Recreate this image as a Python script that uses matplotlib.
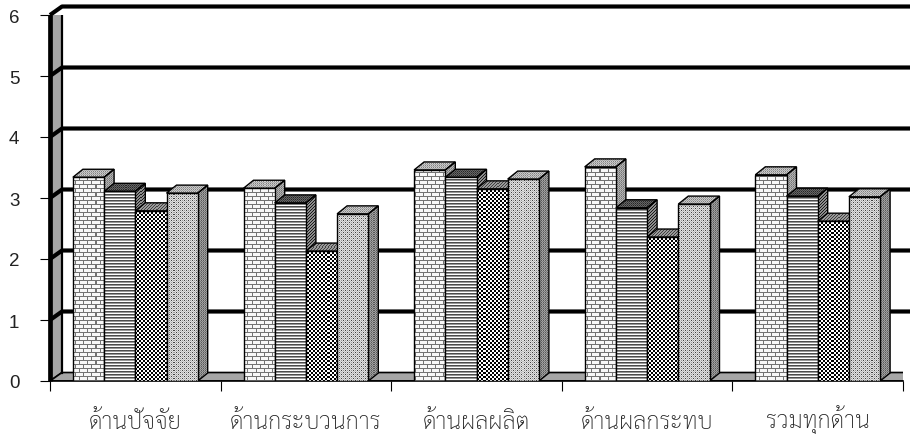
import numpy as np
import matplotlib
matplotlib.use("Agg")
import matplotlib.pyplot as plt
import matplotlib.font_manager as fm
from matplotlib.ft2font import FT2Font
from matplotlib.patches import Polygon

# ---------------- data ----------------
categories = ["ด้านปัจจัย", "ด้านกระบวนการ", "ด้านผลผลิต", "ด้านผลกระทบ", "รวมทุกด้าน"]
series1 = [3.34, 3.16, 3.46, 3.51, 3.38]
series2 = [3.11, 2.92, 3.34, 2.84, 3.03]
series3 = [2.79, 2.13, 3.15, 2.36, 2.62]
series4 = [3.08, 2.74, 3.31, 2.90, 3.02]
y_ticks = [0, 1, 2, 3, 4, 5, 6]

# ---------------- thai font ----------------
cands = []
for f in fm.fontManager.ttflist:
    try:
        cm = FT2Font(f.fname).get_charmap()
    except Exception:
        continue
    if 0x0E14 in cm and 0x0E49 in cm:
        cands.append(f.name)
cands = sorted(set(cands))
thai_font = cands[0] if cands else "DejaVu Sans"
for pref in ["Sarabun", "Noto Sans Thai Looped", "Thasadith", "Niramit", "Anuphan"]:
    if pref in cands:
        thai_font = pref
        break

# ---------------- layout ----------------
W, H, DPI = 910, 435, 100
fig = plt.figure(figsize=(W / DPI, H / DPI), dpi=DPI)
axl, axr, axt, axb = 50, 903, 16, 382
ax = fig.add_axes([axl / W, (H - axb) / H, (axr - axl) / W, (axb - axt) / H])
NX, NY = 5, 6
sx = (axr - axl) / NX
sy = (axb - axt) / NY

wdx, wdy = 12 / sx, 8.5 / sy      # wall depth
bdx, bdy = 10 / sx, 8 / sy        # bar depth
bw = 31.2 / sx

# ---------------- textures ----------------
X0, X1, Y0, Y1 = -0.3, 5.4, -0.4, 6.5
GC = int(round((X1 - X0) * sx))
GR = int(round((Y1 - Y0) * sy))
rr, cc = np.mgrid[0:GR, 0:GC]


def brick():
    a = np.full((GR, GC), 0.97)
    m = 0.45
    a[rr % 8 == 0] = m
    a[rr % 8 == 4] = m
    a[((rr % 8) < 4) & (cc % 8 == 0)] = m
    a[((rr % 8) >= 4) & (cc % 8 == 4)] = m
    return a


def hlines():
    vals = np.array([0.3, 0.6, 1.0])
    return vals[rr % 3]


def checker():
    return np.where(((rr // 2) + (cc // 2)) % 2 == 0, 0.0, 1.0)


def dots():
    tile = np.array([[0.25, 0.88, 0.6, 0.88],
                     [0.88, 0.75, 0.88, 0.75],
                     [0.6, 0.88, 0.25, 0.88],
                     [0.88, 0.75, 0.88, 0.75]])
    return tile[rr % 4, cc % 4]


def stip(a, b, c, d):
    tile = np.array([[a, b], [c, d]])
    return tile[rr % 2, cc % 2]


def diag(dark, light):
    return np.where((rr + cc) % 3 == 0, dark, light)


front_tex = [brick(), hlines(), checker(), dots()]
side_tex = [stip(0.45, 0.72, 0.68, 0.55), diag(0.1, 0.55), stip(0.1, 0.55, 0.55, 0.15), stip(0.35, 0.65, 0.6, 0.48)]
top_tex = [stip(0.5, 0.82, 0.75, 0.65), stip(0.15, 0.4, 0.4, 0.25), diag(0.25, 0.6), stip(0.5, 0.8, 0.78, 0.62)]


def fill_tex(tex, patch, z, bbox):
    xa, xb, ya, yb = bbox
    c0 = max(0, int(np.floor((xa - X0) * sx)) - 1)
    c1 = min(GC, int(np.ceil((xb - X0) * sx)) + 1)
    r0 = max(0, int(np.floor((Y1 - yb) * sy)) - 1)
    r1 = min(GR, int(np.ceil((Y1 - ya) * sy)) + 1)
    sub = tex[r0:r1, c0:c1]
    ext = (X0 + c0 / sx, X0 + c1 / sx, Y1 - r1 / sy, Y1 - r0 / sy)
    im = ax.imshow(sub, cmap="gray", vmin=0, vmax=1, extent=ext, origin="upper",
                   interpolation="nearest", aspect="auto", zorder=z)
    im.set_clip_path(patch)


# ---------------- walls, floor, grid ----------------
wall_gray = "#a6a6a6"
left_wall = Polygon([(0, 0), (0, NY), (wdx, NY + wdy), (wdx, wdy)], closed=True,
                    facecolor=wall_gray, edgecolor="black", lw=1.2, zorder=1)
ax.add_patch(left_wall)
floor = Polygon([(0, 0), (NX, 0), (NX + wdx, wdy), (wdx, wdy)], closed=True,
                facecolor=wall_gray, edgecolor="black", lw=1.2, zorder=1)
ax.add_patch(floor)
ax.plot([wdx, wdx], [wdy, NY + wdy], color="black", lw=1.6, zorder=2)

for v in y_ticks[1:]:
    ax.plot([0, wdx, NX + wdx], [v, v + wdy, v + wdy], color="black", lw=3.0,
            solid_capstyle="butt", zorder=3, clip_on=False)
ax.plot([0, 0], [0, NY], color="black", lw=3.4, solid_capstyle="butt", zorder=4, clip_on=False)
ax.plot([0, NX], [0, 0], color="black", lw=1.2, zorder=4, clip_on=False)

# ---------------- bars ----------------
all_series = [series1, series2, series3, series4]
xc = np.arange(len(categories)) + 0.5
for j, vals in enumerate(all_series):
    xs = xc - 2 * bw + j * bw
    bars = ax.bar(xs, vals, width=bw, align="edge", facecolor="none",
                  edgecolor="black", linewidth=1.0)
    for k, (rect, v) in enumerate(zip(bars.patches, vals)):
        z = 10 + j * 4
        x = rect.get_x()
        x1 = x + rect.get_width()
        h = rect.get_height()
        side = Polygon([(x1, 0), (x1 + bdx, bdy), (x1 + bdx, h + bdy), (x1, h)], closed=True,
                       facecolor="none", edgecolor="black", lw=1.0, zorder=z + 0.5)
        top = Polygon([(x, h), (x + bdx, h + bdy), (x1 + bdx, h + bdy), (x1, h)], closed=True,
                      facecolor="none", edgecolor="black", lw=1.0, zorder=z + 0.5)
        ax.add_patch(side)
        ax.add_patch(top)
        fill_tex(side_tex[j], side, z, (x1, x1 + bdx, 0, h + bdy))
        fill_tex(top_tex[j], top, z, (x, x1 + bdx, h, h + bdy))
        rect.set_zorder(z + 2)
        fill_tex(front_tex[j], rect, z + 1, (x, x1, 0, h))

# ---------------- axes cosmetics ----------------
ax.set_xlim(0, NX)
ax.set_ylim(0, NY)
for s in ax.spines.values():
    s.set_visible(False)
ax.set_yticks(y_ticks)
ax.set_yticklabels([str(t) for t in y_ticks], fontsize=13.5, family="Liberation Sans", color="#222222")
ax.tick_params(axis="y", direction="out", length=7, width=0.8, pad=15)
ax.set_xticks(np.arange(NX + 1))
ax.set_xticklabels([])
ax.tick_params(axis="x", which="major", direction="out", length=7, width=0.8)
ax.set_xticks(xc, minor=True)
ax.set_xticklabels(categories, minor=True, fontsize=17, family=[thai_font, "DejaVu Sans"],
                   fontweight="light", color="#222222")
ax.tick_params(axis="x", which="minor", length=0, pad=33.5)
for lab in ax.get_xticklabels(minor=True):
    lab.set_verticalalignment("baseline")

fig.savefig("out.png", dpi=DPI)
